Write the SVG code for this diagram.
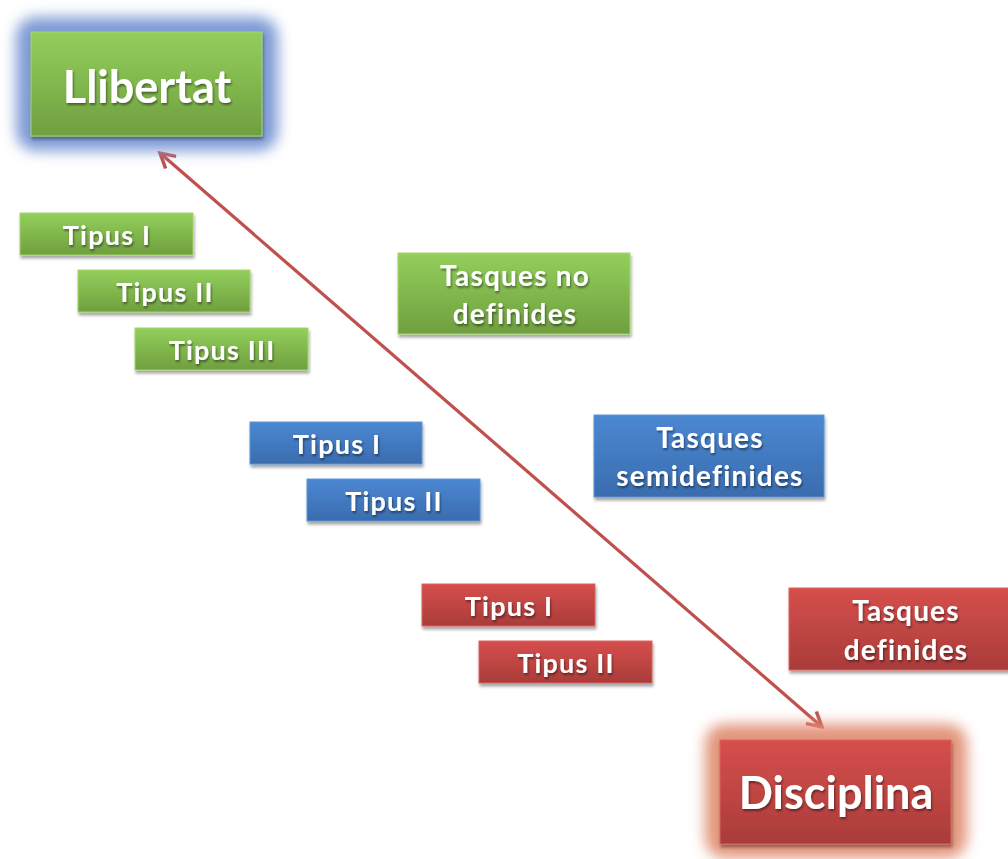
<svg xmlns="http://www.w3.org/2000/svg" width="1008" height="859" viewBox="0 0 1008 859">
<defs>
<linearGradient id="gG" x1="0" y1="0" x2="0" y2="1"><stop offset="0" stop-color="#93cf5c"/><stop offset="1" stop-color="#6f9f3f"/></linearGradient>
<linearGradient id="gB" x1="0" y1="0" x2="0" y2="1"><stop offset="0" stop-color="#4b88d2"/><stop offset="1" stop-color="#3a6cae"/></linearGradient>
<linearGradient id="gR" x1="0" y1="0" x2="0" y2="1"><stop offset="0" stop-color="#d64f4c"/><stop offset="1" stop-color="#a93c3a"/></linearGradient>
<filter id="sh" x="-10%" y="-20%" width="120%" height="150%"><feDropShadow dx="1" dy="3" stdDeviation="1.5" flood-color="#000" flood-opacity="0.35"/></filter>
<filter id="ts" x="-10%" y="-20%" width="120%" height="150%"><feDropShadow dx="1" dy="2" stdDeviation="1" flood-color="#000" flood-opacity="0.45"/></filter>
<filter id="glow" x="-20%" y="-30%" width="140%" height="160%"><feGaussianBlur stdDeviation="7"/></filter>
<marker id="ah" viewBox="0 0 12 12" refX="10" refY="6" markerWidth="6" markerHeight="6" orient="auto-start-reverse" markerUnits="strokeWidth"><path d="M1,1 L10,6 L1,11" fill="none" stroke="#c0504d" stroke-width="2.2"/></marker>
<style>
.g{fill:url(#gG);stroke:#a6d56e;stroke-width:1;filter:url(#sh)}
.b{fill:url(#gB);stroke:#5d93d6;stroke-width:1;filter:url(#sh)}
.r{fill:url(#gR);stroke:#dd6360;stroke-width:1;filter:url(#sh)}
text{font-family:"Lato","Liberation Sans",sans-serif;font-weight:bold;fill:#fff;text-anchor:middle;filter:url(#ts)}
.s{font-size:27px;letter-spacing:1.2px}
.m{font-size:28px;letter-spacing:1.2px}
.l{font-size:45px;letter-spacing:0px}
</style>
</defs>
<g id="connectors">
<line x1="160" y1="153" x2="822" y2="727" stroke="#c0504d" stroke-width="3.2" marker-start="url(#ah)" marker-end="url(#ah)"/>
</g>
<g id="llibertat">
<rect x="16" y="17" width="262" height="134" rx="20" fill="#7f9bd6" filter="url(#glow)"/>
<rect class="g" x="31" y="32" width="231" height="104"/>
<text class="l" x="147" y="103">Llibertat</text>
</g>
<g id="disciplina">
<rect x="705" y="724" width="262" height="134" rx="20" fill="#e3957c" filter="url(#glow)"/>
<rect class="r" x="720" y="740" width="231" height="104"/>
<text class="l" x="836" y="809">Disciplina</text>
</g>
<g id="g1"><rect class="g" x="20" y="213" width="173" height="42"/><text class="s" x="107" y="245">Tipus I</text></g>
<g id="g2"><rect class="g" x="78" y="270" width="172" height="42"/><text class="s" x="165" y="302">Tipus II</text></g>
<g id="g3"><rect class="g" x="135" y="328" width="173" height="42"/><text class="s" x="222" y="360">Tipus III</text></g>
<g id="gt"><rect class="g" x="398" y="253" width="232" height="81"/><text class="m" x="515" y="286">Tasques no</text><text class="m" x="515" y="324">definides</text></g>
<g id="b1"><rect class="b" x="250" y="422" width="172" height="42"/><text class="s" x="337" y="454">Tipus I</text></g>
<g id="b2"><rect class="b" x="307" y="479" width="173" height="42"/><text class="s" x="394" y="511">Tipus II</text></g>
<g id="bt"><rect class="b" x="594" y="415" width="230" height="82"/><text class="m" x="710" y="448">Tasques</text><text class="m" x="710" y="486">semidefinides</text></g>
<g id="r1"><rect class="r" x="422" y="584" width="173" height="42"/><text class="s" x="509" y="616">Tipus I</text></g>
<g id="r2"><rect class="r" x="479" y="641" width="173" height="42"/><text class="s" x="566" y="673">Tipus II</text></g>
<g id="rt"><rect class="r" x="789" y="588" width="230" height="82"/><text class="m" x="906" y="621">Tasques</text><text class="m" x="906" y="660">definides</text></g>
</svg>
